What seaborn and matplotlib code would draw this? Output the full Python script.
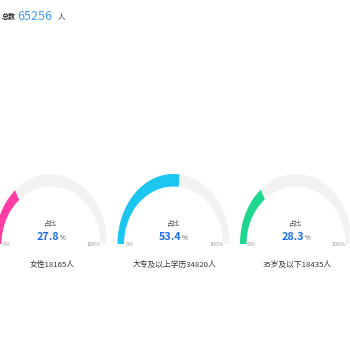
import matplotlib
matplotlib.use("Agg")
import matplotlib.pyplot as plt
import numpy as np
import seaborn as sns

sns.set_theme(style="white")
plt.rcParams["font.family"] = ["Noto Sans CJK SC", "DejaVu Sans"]

# Data
total_label = "总数"
total_value = 65256
total_unit = "人"
categories = ["女性", "大专及以上学历", "35岁及以下"]
counts = [18165, 34820, 18435]
percents = [27.8, 53.4, 28.3]
ring_colors = ["#ff3ea5", "#1bc6f0", "#1ed68e"]

W = H = 350
fig = plt.figure(figsize=(3.5, 3.5), dpi=100)
fig.patch.set_facecolor("white")
ax = fig.add_axes([0, 0, 1, 1])
ax.set_xlim(0, W)
ax.set_ylim(H, 0)
ax.axis("off")


def arc_band(ax, cx, cy, frac_from, frac_to, color):
    """Elliptical half-ring band; fractions run 0 (left) to 1 (right)."""
    rx_out, ry_out = 56, 70
    rx_in, ry_in = 49.5, 57.5
    t = np.pi * (1 - np.linspace(frac_from, frac_to, 120))
    xo = cx + rx_out * np.cos(t)
    yo = cy - ry_out * np.sin(t)
    xi = cx + rx_in * np.cos(t[::-1])
    yi = cy - ry_in * np.sin(t[::-1])
    ax.fill(np.concatenate([xo, xi]), np.concatenate([yo, yi]),
            color=color, linewidth=0)


# Header
ax.text(2, 16, total_label, fontsize=5.0, fontweight="bold", color="#222222",
        ha="left", va="center")
ax.text(17.5, 16, f"{total_value}", fontsize=9, color="#3d9cf5",
        ha="left", va="center")
ax.text(58, 16, total_unit, fontsize=5.4, color="#333333",
        ha="left", va="center")

centers = [51, 173.5, 296]
base_y = 244

for cx, cat, n, p, col in zip(centers, categories, counts, percents, ring_colors):
    arc_band(ax, cx, base_y, 0, 1, "#f2f2f2")
    arc_band(ax, cx, base_y, 0, p / 100, col)

    ax.text(cx, 224, "占比", fontsize=4.8, color="#555555", ha="center", va="center")
    ax.text(cx + 8, 236.5, f"{p}", fontsize=7.8, fontweight="bold",
            color="#1a6ee6", ha="right", va="center")
    ax.text(cx + 8.3, 237.5, "%", fontsize=4.6, color="#555555",
            ha="left", va="center")
    ax.text(cx - 44, 244.5, "0%", fontsize=4.0, color="#999999",
            ha="center", va="center")
    ax.text(cx + 43, 244.5, "100%", fontsize=4.0, color="#999999",
            ha="center", va="center")
    ax.text(cx + 1, 265, f"{cat}{n}人", fontsize=5.6, color="#333333",
            ha="center", va="center")

fig.savefig("out.png", dpi=100, facecolor="white")
